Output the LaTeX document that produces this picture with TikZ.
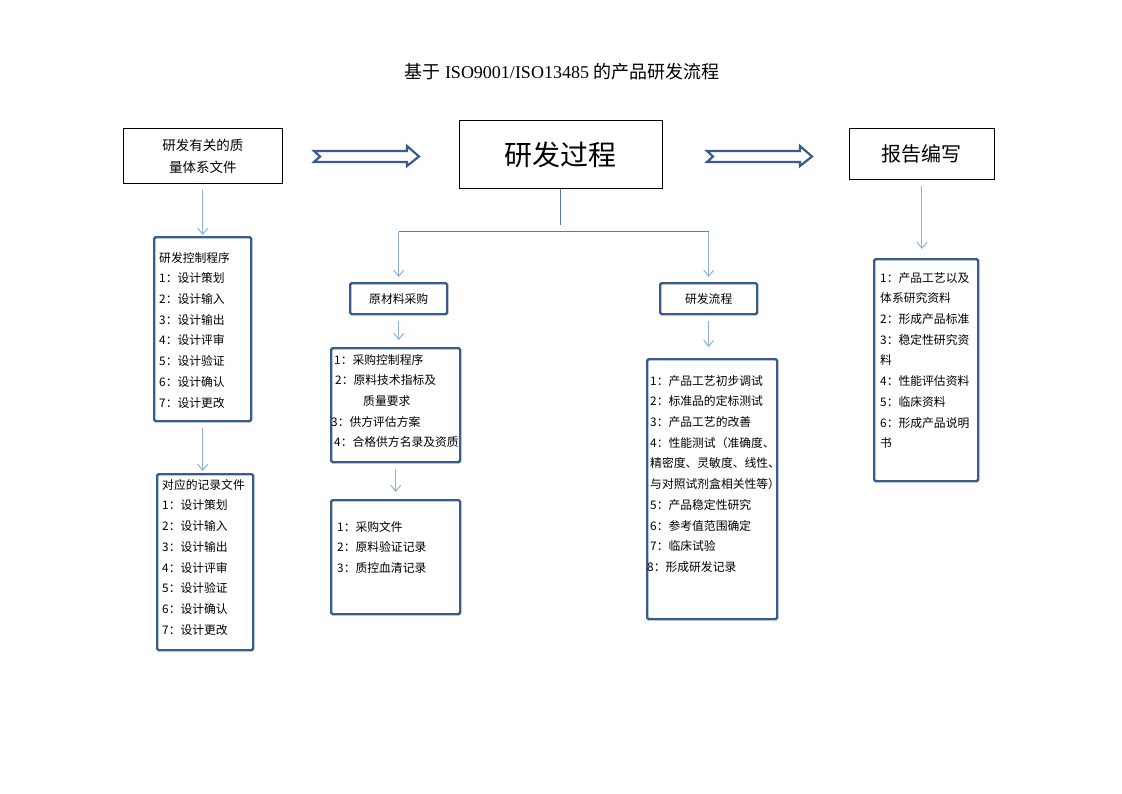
\documentclass[tikz,border=0pt]{standalone}
\usepackage{fontspec}
\setmainfont{Liberation Serif}
\newfontfamily\cjk{Noto Sans CJK SC}
\usetikzlibrary{arrows.meta,calc}
\definecolor{boxblue}{HTML}{3B5C8A}
\definecolor{linkblue}{HTML}{4F7DB5}
\definecolor{arrowblue}{HTML}{8DB0DB}

\tikzset{
  plainbox/.style={draw=black, line width=0.8pt, inner sep=0pt, anchor=north west, align=center},
  listbox/.style={draw=boxblue, line width=2.4pt, rounded corners=1.5pt, inner sep=0pt, anchor=north west},
  listtext/.style={anchor=north west, inner sep=0pt, align=left, font=\cjk\fontsize{11.8}{20.7}\selectfont},
  flow/.style={draw=arrowblue, line width=1pt, shorten <=6pt, -{Straight Barb[length=6pt,width=10pt]}},
  trunk/.style={draw=linkblue, line width=0.9pt},
  hollow/.style={draw=boxblue, line width=2.2pt, fill=white, line join=miter}
}

\begin{document}
\begin{tikzpicture}[x=1pt, y=-1pt]
      \useasboundingbox (0,0) rectangle (1122,793);
      \node[font=\fontsize{18}{20}\selectfont] (title) at (562,72) {{\cjk 基于} ISO9001/ISO13485 {\cjk 的产品研发流程}};
      % top row
      \node[plainbox, minimum width=159, minimum height=55, font=\cjk\fontsize{13.5}{22}\selectfont] (quality) at (123,128) {研发有关的质\\量体系文件};
      \node[plainbox, minimum width=203, minimum height=68, font=\cjk\fontsize{28}{32}\selectfont] (rd) at (459,120) {研发过程};
      \node[plainbox, minimum width=145, minimum height=51, font=\cjk\fontsize{20}{24}\selectfont] (report) at (849,128) {报告编写};
      \draw[hollow] (314,151) -- (407,151) -- (407,146) -- (419,156.5) -- (407,166) -- (407,162) -- (314,162) -- (320,156.5) -- cycle;
      \draw[hollow, shift={(393,0)}] (314,151) -- (407,151) -- (407,146) -- (419,156.5) -- (407,166) -- (407,162) -- (314,162) -- (320,156.5) -- cycle;
      % left column
      \node[listbox, minimum width=97, minimum height=184] (ctrl) at (153,236) {};
      \node[listtext] (ctrltxt) at ($(ctrl.north west)+(6,16)$) {研发控制程序\\1：设计策划\\2：设计输入\\3：设计输出\\4：设计评审\\5：设计验证\\6：设计确认\\7：设计更改};
      \node[listbox, minimum width=96, minimum height=176] (rec) at (156,473) {};
      \node[listtext] (rectxt) at ($(rec.north west)+(6,6)$) {对应的记录文件\\1：设计策划\\2：设计输入\\3：设计输出\\4：设计评审\\5：设计验证\\6：设计确认\\7：设计更改};
      % middle columns
      \node[listbox, minimum width=97, minimum height=31, font=\cjk\fontsize{11.8}{13}\selectfont] (raw) at (349,282) {原材料采购};
      \node[listbox, minimum width=129, minimum height=114] (buy) at (330,347) {};
      \node[listtext] (buytxt) at ($(buy.north west)+(4,7)$) {1：采购控制程序\\\hspace{1pt}2：原料技术指标及\\\hspace{29pt}质量要求\\\hspace{-3pt}3：供方评估方案\\4：合格供方名录及资质};
      \node[listbox, minimum width=129, minimum height=114] (buyrec) at (330,499) {};
      \node[listtext] (buyrectxt) at ($(buyrec.north west)+(7,22)$) {1：采购文件\\2：原料验证记录\\3：质控血清记录};
      \node[listbox, minimum width=97, minimum height=31, font=\cjk\fontsize{11.8}{13}\selectfont] (flowbox) at (659,282) {研发流程};
      \node[listbox, minimum width=130, minimum height=260] (steps) at (646,358) {};
      \node[listtext] (stepstxt) at ($(steps.north west)+(4,17)$) {1：产品工艺初步调试\\2：标准品的定标测试\\3：产品工艺的改善\\4：性能测试（准确度、\\精密度、灵敏度、线性、\\与对照试剂盒相关性等）\\5：产品稳定性研究\\6：参考值范围确定\\7：临床试验\\\hspace{-3pt}8：形成研发记录};
      % right column
      \node[listbox, minimum width=104, minimum height=222] (docs) at (873,258) {};
      \node[listtext] (docstxt) at ($(docs.north west)+(7,14)$) {1：产品工艺以及\\体系研究资料\\2：形成产品标准\\3：稳定性研究资\\料\\4：性能评估资料\\5：临床资料\\6：形成产品说明\\书};
      % connectors
      \coordinate (split) at ($(rd.south)+(0,43)$);
      \draw[trunk] (rd.south) -- ++(0,36);
      \draw[trunk] (raw.north |- split) -- (flowbox.north |- split);
      \draw[flow, shorten <=0pt, shorten >=5pt] (raw.north |- split) -- (raw.north);
      \draw[flow, shorten <=0pt, shorten >=5pt] (flowbox.north |- split) -- (flowbox.north);
      \draw[flow, shorten >=1pt] (quality.south -| ctrl.north) -- (ctrl.north);
      \draw[flow, shorten >=2pt] (ctrl.south) -- (ctrl.south |- rec.north);
      \draw[flow, shorten >=7pt] (raw.south) -- (raw.south |- buy.north);
      \draw[flow, shorten >=7pt] (buy.south) -- (buy.south |- buyrec.north);
      \draw[flow, shorten >=11pt] (flowbox.south) -- (flowbox.south |- steps.north);
      \draw[flow, shorten >=9pt] (report.south) -- (report.south |- docs.north);
    \end{tikzpicture}
\end{document}
